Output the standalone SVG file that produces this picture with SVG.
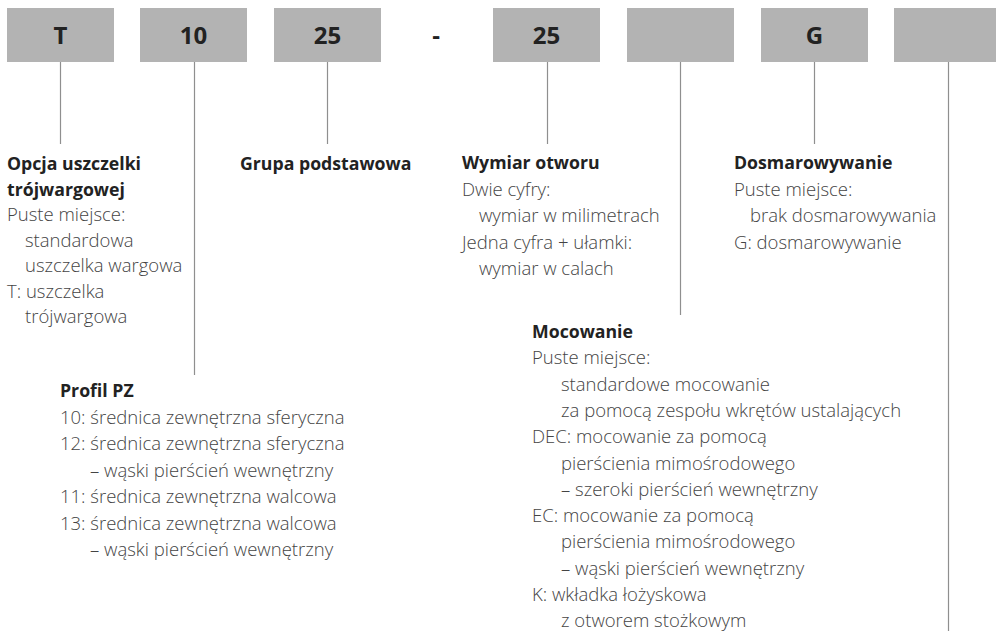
<svg xmlns="http://www.w3.org/2000/svg" width="996" height="631" viewBox="0 0 996 631">
<style>
.box{fill:#b3b3b3}
.code{font-family:"Open Sans","Noto Sans","Liberation Sans",sans-serif;font-size:24px;font-weight:700;fill:#222;text-anchor:middle}
.conn line{stroke:#8f8f8f;stroke-width:1.2}
.h{font-family:"Open Sans","Noto Sans","Liberation Sans",sans-serif;font-size:17.7px;font-weight:700;fill:#222}
.t{font-family:"Open Sans","Noto Sans","Liberation Sans",sans-serif;font-size:18.5px;font-weight:300;fill:#444}
</style>
<rect width="996" height="631" fill="#fff"/>
<g id="box-T"><rect class="box" x="7" y="8" width="107" height="54"/><text class="code" x="60.5" y="44">T</text></g>
<g id="box-10"><rect class="box" x="140" y="8" width="107" height="54"/><text class="code" x="193.5" y="44">10</text></g>
<g id="box-25a"><rect class="box" x="274" y="8" width="107" height="54"/><text class="code" x="327.5" y="44">25</text></g>
<g id="dash"><text class="code" x="436" y="44">-</text></g>
<g id="box-25b"><rect class="box" x="493" y="8" width="107" height="54"/><text class="code" x="546.5" y="44">25</text></g>
<g id="box-blank1"><rect class="box" x="627" y="8" width="107" height="54"/></g>
<g id="box-G"><rect class="box" x="761" y="8" width="107" height="54"/><text class="code" x="814.5" y="44">G</text></g>
<g id="box-blank2"><rect class="box" x="894" y="8" width="107" height="54"/></g>
<g id="connectors" class="conn">
<line x1="60.5" y1="62" x2="60.5" y2="144"/>
<line x1="194.5" y1="62" x2="194.5" y2="375"/>
<line x1="327.5" y1="62" x2="327.5" y2="144"/>
<line x1="547.5" y1="62" x2="547.5" y2="144"/>
<line x1="680.5" y1="62" x2="680.5" y2="315"/>
<line x1="814.5" y1="62" x2="814.5" y2="144"/>
<line x1="948.5" y1="62" x2="948.5" y2="631"/>
</g>
<g id="desc-opcja">
<text class="h" x="7" y="170">Opcja uszczelki<tspan x="7" dy="25.5">trójwargowej</tspan></text>
<text class="t" x="7" y="221">Puste miejsce:<tspan x="25" dy="25.5">standardowa</tspan><tspan x="25" dy="25.5">uszczelka wargowa</tspan><tspan x="7" dy="25.5">T: uszczelka</tspan><tspan x="25" dy="25.5">trójwargowa</tspan></text>
</g>
<g id="desc-grupa"><text class="h" x="240" y="170">Grupa podstawowa</text></g>
<g id="desc-wymiar">
<text class="h" x="462" y="169">Wymiar otworu</text>
<text class="t" x="462" y="195.5">Dwie cyfry:<tspan x="479" dy="26.5">wymiar w milimetrach</tspan><tspan x="462" dy="26.5">Jedna cyfra + ułamki:</tspan><tspan x="479" dy="26.5">wymiar w calach</tspan></text>
</g>
<g id="desc-dosmar">
<text class="h" x="734" y="169">Dosmarowywanie</text>
<text class="t" x="734" y="195.5">Puste miejsce:<tspan x="750" dy="26.5">brak dosmarowywania</tspan><tspan x="734" dy="26.5">G: dosmarowywanie</tspan></text>
</g>
<g id="desc-profil">
<text class="h" x="60" y="397">Profil PZ</text>
<text class="t" x="60" y="423.5">10: średnica zewnętrzna sferyczna<tspan x="60" dy="26.5">12: średnica zewnętrzna sferyczna</tspan><tspan x="90" dy="26.5">– wąski pierścień wewnętrzny</tspan><tspan x="60" dy="26.5">11: średnica zewnętrzna walcowa</tspan><tspan x="60" dy="26.5">13: średnica zewnętrzna walcowa</tspan><tspan x="90" dy="26.5">– wąski pierścień wewnętrzny</tspan></text>
</g>
<g id="desc-mocowanie">
<text class="h" x="532" y="338">Mocowanie</text>
<text class="t" x="532" y="364.3">Puste miejsce:<tspan x="561" dy="26.3">standardowe mocowanie</tspan><tspan x="561" dy="26.3">za pomocą zespołu wkrętów ustalających</tspan><tspan x="532" dy="26.3">DEC: mocowanie za pomocą</tspan><tspan x="561" dy="26.3">pierścienia mimośrodowego</tspan><tspan x="561" dy="26.3">– szeroki pierścień wewnętrzny</tspan><tspan x="532" dy="26.3">EC: mocowanie za pomocą</tspan><tspan x="561" dy="26.3">pierścienia mimośrodowego</tspan><tspan x="561" dy="26.3">– wąski pierścień wewnętrzny</tspan><tspan x="532" dy="26.3">K: wkładka łożyskowa</tspan><tspan x="561" dy="26.3">z otworem stożkowym</tspan></text>
</g>
</svg>
